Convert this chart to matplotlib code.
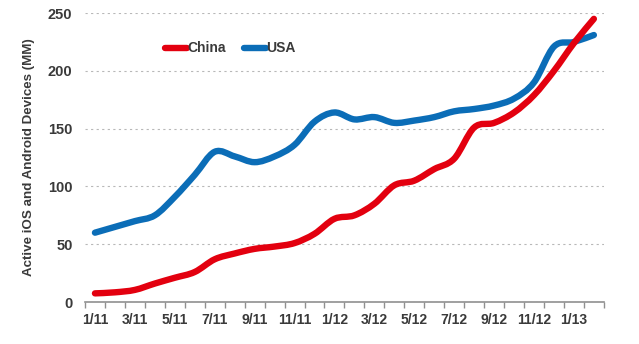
import matplotlib.pyplot as plt
from matplotlib.path import Path
from matplotlib.patches import PathPatch
from matplotlib.lines import Line2D
import numpy as np

plt.rcParams["font.family"] = ["Liberation Sans", "DejaVu Sans"]
plt.rcParams["font.weight"] = "bold"

months = ["1/11", "2/11", "3/11", "4/11", "5/11", "6/11", "7/11", "8/11", "9/11",
          "10/11", "11/11", "12/11", "1/12", "2/12", "3/12", "4/12", "5/12", "6/12",
          "7/12", "8/12", "9/12", "10/12", "11/12", "12/12", "1/13", "2/13"]
china = [7.5, 8.4, 10.5, 16, 21, 26, 37, 42, 46, 48, 51, 59, 72, 75, 85, 101,
         105, 115, 124, 151, 155, 164, 179, 200, 224, 245]
usa = [60, 65, 70, 75, 91, 110, 130, 126, 121, 126, 136, 156, 164, 158, 160, 155,
       157, 160, 165, 167, 170, 176, 190, 221, 225, 231]

RED = "#e3000f"
BLUE = "#0b6db7"
TEXT = "#3a3a3a"


def smooth_path(xs, ys, t=1 / 6):
    # cubic bezier through the points (Catmull-Rom style control points)
    pts = np.column_stack([xs, ys])
    verts = [pts[0]]
    codes = [Path.MOVETO]
    n = len(pts)
    for i in range(n - 1):
        p0 = pts[max(i - 1, 0)]
        p1 = pts[i]
        p2 = pts[i + 1]
        p3 = pts[min(i + 2, n - 1)]
        c1 = p1 + (p2 - p0) * t
        c2 = p2 - (p3 - p1) * t
        verts += [c1, c2, p2]
        codes += [Path.CURVE4] * 3
    return Path(verts, codes)


fig = plt.figure(figsize=(6.39, 3.44), dpi=100)
ax = fig.add_axes([0.133, 0.122, 0.812, 0.840])

x = np.arange(len(months))
for series, color in [(usa, BLUE), (china, RED)]:
    patch = PathPatch(smooth_path(x, series), facecolor="none", edgecolor=color,
                      lw=4.6, capstyle="round", joinstyle="round", zorder=3)
    ax.add_patch(patch)

ax.set_xlim(-0.5, len(months) - 0.5)
ax.set_ylim(0, 250)
ax.set_yticks(range(0, 251, 50))
ax.yaxis.grid(True, linestyle=(0, (2, 3)), color="#b8b8b8", lw=0.8)
ax.set_axisbelow(True)

ax.set_xticks(x[::2])
ax.set_xticklabels(months[::2])
ax.set_xticks(np.arange(-0.5, len(months), 1), minor=True)
ax.tick_params(axis="x", which="major", length=0, pad=8, labelsize=10, labelcolor=TEXT)
ax.tick_params(axis="x", which="minor", length=4, color="#909090", width=1)
ax.tick_params(axis="y", length=0, pad=9, labelsize=10.5, labelcolor=TEXT)

for side in ["top", "right", "left"]:
    ax.spines[side].set_visible(False)
ax.spines["bottom"].set_color("#909090")
ax.spines["bottom"].set_linewidth(1.2)

ax.set_ylabel("Active iOS and Android Devices (MM)", fontsize=9.6, color=TEXT,
              fontweight="bold", labelpad=9)

handles = [Line2D([], [], color=RED, lw=4.6, solid_capstyle="round"),
           Line2D([], [], color=BLUE, lw=4.6, solid_capstyle="round")]
ax.legend(handles, ["China", "USA"], loc="upper left", bbox_to_anchor=(0.13, 0.945),
          ncol=2, frameon=False, fontsize=10, handlelength=1.6, handletextpad=0.0,
          columnspacing=1.3, labelcolor=TEXT)

fig.savefig("out.png", dpi=100)
